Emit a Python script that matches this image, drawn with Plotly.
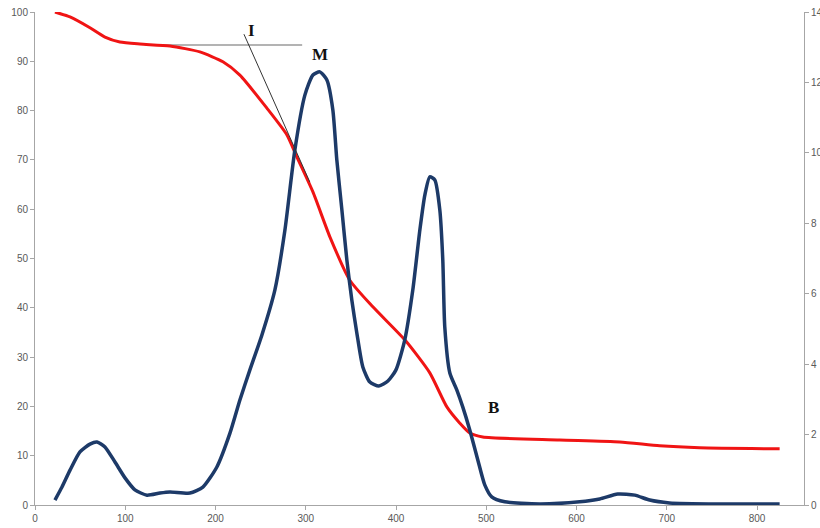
import plotly.graph_objects as go

# Blue trace (right axis, 0-14)
blue_x = [22.1, 29.9, 38.8, 49.8, 60.9, 68.7, 77.5, 88.6, 99.7, 110.7, 124, 138.4, 149.5,
          171.7, 186, 201.5, 216, 227, 238, 251.4, 265.8, 276.9, 287.9, 299, 307.9, 315.6,
          323.4, 330, 334.4, 340, 345.5, 351, 356.6, 363.2, 371, 381, 391, 399.8, 409.7,
          418.6, 426.4, 431.9, 437.4, 443, 448.5, 451.8, 454, 459.6, 467.3, 474, 481.7,
          490.6, 498.3, 506, 520.5, 559, 603.5, 625.7, 645.6, 664.5, 681, 703, 758.6, 825]
blue_y = [0.14, 0.51, 0.99, 1.51, 1.73, 1.79, 1.65, 1.22, 0.77, 0.43, 0.28, 0.34, 0.37,
          0.34, 0.51, 1.08, 2.04, 2.98, 3.83, 4.83, 6.11, 7.81, 10.08, 11.64, 12.21, 12.3,
          12.07, 11.22, 9.8, 8.38, 6.96, 5.82, 4.88, 3.92, 3.49, 3.38, 3.52, 3.83, 4.69,
          6.11, 7.81, 8.8, 9.32, 9.23, 8.38, 6.96, 5.06, 3.75, 3.27, 2.78, 2.13,
          1.28, 0.57, 0.23, 0.09, 0.03, 0.09, 0.17, 0.31, 0.28, 0.14, 0.06, 0.03, 0.03]

# Red trace (left axis, 0-100)
red_x = [22.1, 38.8, 60.9, 77.5, 94.1, 116.3, 149.5, 182.7, 208.2, 227, 256.9, 279, 290.1,
         307.9, 326.7, 348.8, 374.3, 409.7, 437.4, 456.3, 470.7, 481.7, 496.1, 581.4,
         647.8, 692.1, 736.4, 825]
red_y = [100, 99, 96.8, 94.9, 93.9, 93.5, 93.1, 91.9, 89.9, 87.2, 80.5, 75.1, 70.6,
         63.5, 54.4, 45.6, 40.2, 33.5, 26.8, 19.9, 16.6, 14.6, 13.8, 13.2,
         12.8, 12.0, 11.6, 11.4]

x_ticks = [0, 100, 200, 300, 400, 500, 600, 700, 800]
left_ticks = [0, 10, 20, 30, 40, 50, 60, 70, 80, 90, 100]
right_ticks = [0, 2, 4, 6, 8, 10, 12, 14]

# Letter labels and construction lines (left-axis coordinates)
label_text = ["I", "M", "B"]
label_x = [240, 315.6, 508]
label_y = [96.3, 91.3, 19.7]
hline_x = [127, 296]
hline_y = 93.3
tangent_x = [231.5, 304.5]
tangent_y = [95.5, 65.5]

axis_grey = "#a6a6a6"
tick_font = dict(family="Liberation Sans", size=10, color="#595959")

fig = go.Figure()
fig.add_trace(go.Scatter(x=red_x, y=red_y, mode="lines", yaxis="y",
                         line=dict(color="#f01414", width=3, shape="spline", smoothing=0.6),
                         showlegend=False, hoverinfo="skip"))
fig.add_trace(go.Scatter(x=blue_x, y=blue_y, mode="lines", yaxis="y2",
                         line=dict(color="#1d3a68", width=3.5, shape="spline", smoothing=0.6),
                         showlegend=False, hoverinfo="skip"))

fig.add_shape(type="line", xref="x", yref="y", x0=hline_x[0], x1=hline_x[1],
              y0=hline_y, y1=hline_y, line=dict(color="#9a9a9a", width=1.5), layer="below")
fig.add_shape(type="line", xref="x", yref="y", x0=tangent_x[0], x1=tangent_x[1],
              y0=tangent_y[0], y1=tangent_y[1], line=dict(color="#333333", width=1))

for t, lx, ly in zip(label_text, label_x, label_y):
    fig.add_annotation(x=lx, y=ly, xref="x", yref="y", text="<b>" + t + "</b>",
                       showarrow=False,
                       font=dict(family="Liberation Serif", size=17, color="#111111"))

fig.update_layout(
    width=820, height=528,
    margin=dict(l=35, r=16, t=12, b=23, autoexpand=False),
    paper_bgcolor="white", plot_bgcolor="white",
    xaxis=dict(range=[0, 852], tickvals=x_ticks, showgrid=False, zeroline=False,
               showline=True, linecolor=axis_grey, linewidth=1, ticks="outside",
               ticklen=4, tickcolor=axis_grey, tickfont=tick_font, automargin=False),
    yaxis=dict(range=[0, 100], tickvals=left_ticks, showgrid=False, zeroline=False,
               showline=True, linecolor=axis_grey, linewidth=1, ticks="outside",
               ticklen=4, tickcolor=axis_grey, tickfont=tick_font, automargin=False),
    yaxis2=dict(range=[0, 14], tickvals=right_ticks, overlaying="y", side="right",
                showgrid=False, zeroline=False, showline=True, linecolor=axis_grey,
                linewidth=1, ticks="outside", ticklen=4, tickcolor=axis_grey,
                tickfont=tick_font, automargin=False),
)

fig.write_html("out.html")
